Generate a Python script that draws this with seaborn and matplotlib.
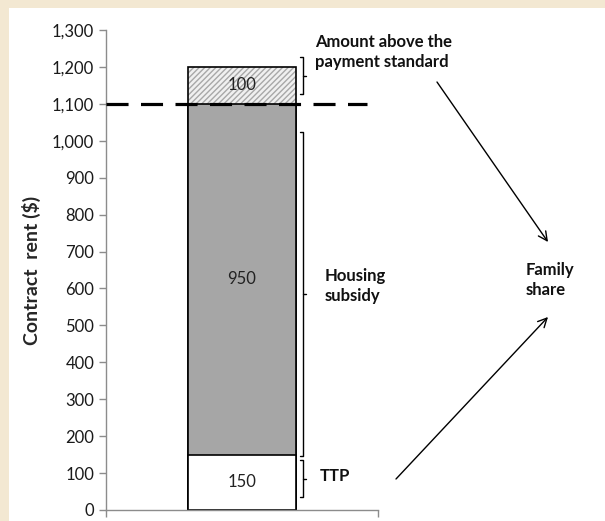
import numpy as np
import pandas as pd
import matplotlib
matplotlib.use("Agg")
import matplotlib.pyplot as plt
from matplotlib.patches import Rectangle
from matplotlib.lines import Line2D
from matplotlib.ticker import FuncFormatter
import seaborn as sns

# data
segments = ["TTP", "Housing subsidy", "Amount above the payment standard"]
values = [150, 950, 100]
payment_standard = 1100
y_ticks = list(range(0, 1301, 100))

sns.set_style("white")
plt.rcParams['font.family'] = ['Lato', 'DejaVu Sans']

W, H = 605, 521
fig = plt.figure(figsize=(W / 100, H / 100), dpi=100)
fig.patch.set_facecolor('#F3E8D2')
fig.patches.append(Rectangle((9 / W, 0), 1, 1 - 8 / H, transform=fig.transFigure,
                             facecolor='white', edgecolor='none', zorder=-10))

ax = fig.add_axes([106 / W, 11 / H, 272 / W, 480 / H])
ax.set_facecolor('none')

tops = np.cumsum(values)
df = pd.DataFrame({"bar": ["rent"] * 3, "top": tops, "seg": segments})

# stacked bars: draw tallest first
fills = ['white', '#A6A6A6', '#F0F0F0']
for i in [2, 1, 0]:
    sub = df.iloc[[i]]
    if i == 2:
        sns.barplot(data=sub, x="bar", y="top", width=0.4, color=fills[i], saturation=1,
                    errorbar=None, hatch='//////', edgecolor='#A8A8A8', linewidth=0, ax=ax)
        sns.barplot(data=sub, x="bar", y="top", width=0.4, fill=False, saturation=1,
                    errorbar=None, edgecolor='black', linewidth=1.2, ax=ax)
    else:
        sns.barplot(data=sub, x="bar", y="top", width=0.4, color=fills[i], saturation=1,
                    errorbar=None, edgecolor='black', linewidth=1.2, ax=ax)

# value labels
bottoms = tops - np.array(values)
for v, b in zip(values, bottoms):
    ax.text(0, b + v / 2, f"{v}", ha='center', va='center', fontsize=12, color='#222222', zorder=20)

# payment standard line
ax.plot([-0.5, 0.46], [payment_standard, payment_standard], color='black', lw=2.3,
        linestyle=(0, (6.9, 3.9)), clip_on=False, zorder=15)

ax.set_xlim(-0.5, 0.5)
ax.set_ylim(0, 1300)
ax.set_yticks(y_ticks)
ax.yaxis.set_major_formatter(FuncFormatter(lambda v, p: f"{int(v):,}"))
ax.set_xticks([-0.5, 0.5])
ax.set_xticklabels(["", ""])
ax.set_xlabel("")
ax.set_ylabel("Contract  rent ($)", fontsize=14, fontweight='bold', labelpad=8)
ax.tick_params(axis='both', direction='out', length=5, width=1, color='#8C8C8C',
               labelsize=12, labelcolor='#1A1A1A', left=True, bottom=True)
for s in ['top', 'right']:
    ax.spines[s].set_visible(False)
for s in ['left', 'bottom']:
    ax.spines[s].set_color('#8C8C8C')
    ax.spines[s].set_linewidth(1)


def fp(x, y):
    return x / W, 1 - y / H


def bracket(x, y0, y1):
    xs = [x - 3, x, x, x - 3]
    ys = [y0, y0, y1, y1]
    fig.add_artist(Line2D([a / W for a in xs], [1 - b / H for b in ys], color='black', lw=1))
    ym = (y0 + y1) / 2
    fig.add_artist(Line2D([x / W, (x + 3) / W], [1 - ym / H, 1 - ym / H], color='black', lw=1))


bracket(303, 57, 94)
bracket(303, 132, 456)
bracket(303, 460, 497)

tk = dict(fontsize=12, fontweight='bold', color='#111111', va='center', ha='left', linespacing=1.25)
fig.text(*fp(315, 52), "Amount above the\npayment standard", **tk)
fig.text(*fp(325, 286), "Housing\nsubsidy", **tk)
fig.text(*fp(320, 476), "TTP", **tk)
fig.text(*fp(526, 280), "Family\nshare", **tk)

arrow = dict(arrowstyle='->', lw=1, color='black', mutation_scale=16, shrinkA=0, shrinkB=0)
ax.annotate("", xy=(548, H - 242), xytext=(437, H - 82), xycoords='figure pixels',
            textcoords='figure pixels', arrowprops=arrow)
ax.annotate("", xy=(548, H - 317), xytext=(396, H - 479), xycoords='figure pixels',
            textcoords='figure pixels', arrowprops=arrow)

fig.savefig("out.png", dpi=100, facecolor=fig.get_facecolor())
